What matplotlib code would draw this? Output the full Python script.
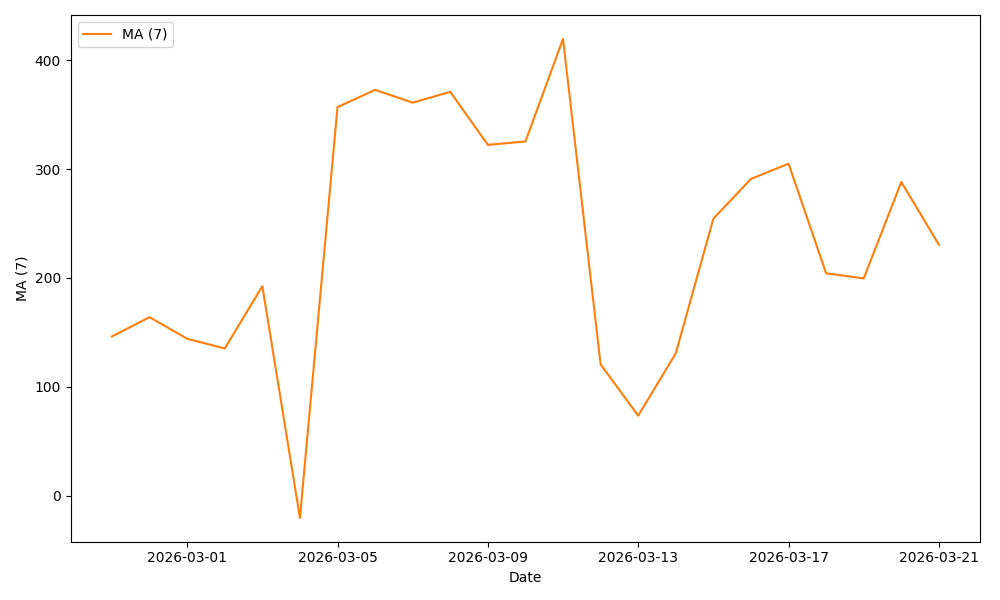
import pandas as pd
import matplotlib
matplotlib.use('Agg')
import matplotlib.pyplot as plt

# daily 7-day moving average values
dates = pd.date_range('2026-02-27', '2026-03-21', freq='D')
ma7 = [146.2, 163.9, 144.1, 135.1, 192.4, -20.4, 356.9, 372.7, 361.0, 370.9,
       322.2, 325.3, 419.5, 120.5, 73.4, 130.7, 254.4, 290.9, 304.9, 204.2,
       199.5, 288.1, 230.5]

fig, ax = plt.subplots(figsize=(10, 6))
ax.plot(dates, ma7, color='C1', label='MA (7)')
ax.set_xlabel('Date')
ax.set_ylabel('MA (7)')
ax.legend(loc='upper left')
plt.tight_layout()
fig.savefig('out.png', dpi=100)
